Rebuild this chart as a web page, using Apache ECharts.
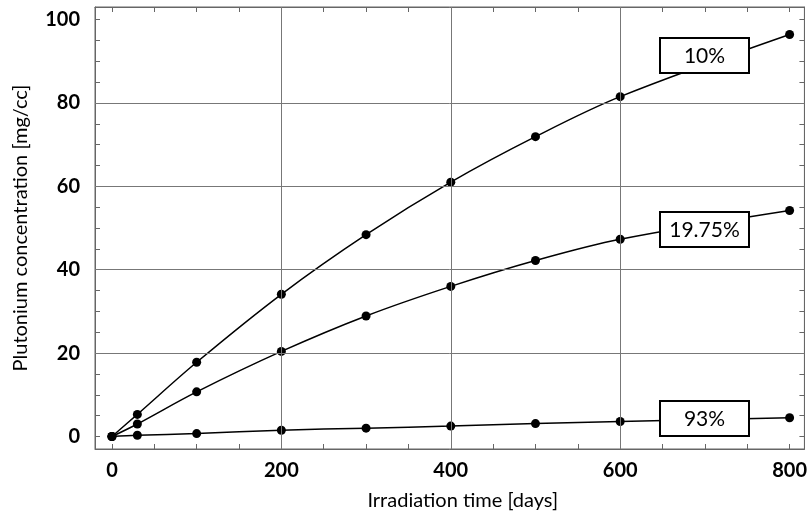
<!DOCTYPE html>
<html>
<head>
<meta charset="utf-8">
<title>Plutonium concentration vs irradiation time</title>
<script src="https://cdn.jsdelivr.net/npm/echarts@6/dist/echarts.min.js"></script>
<style>
  html, body { margin: 0; padding: 0; background: #fff; }
  #chart { width: 810px; height: 519px; }
</style>
</head>
<body>
<div id="chart"></div>
<script>
// Irradiation times (days) at which concentration was computed
const days = [0, 30, 100, 200, 300, 400, 500, 600, 800];

// Plutonium concentration (mg/cc) for each enrichment
const pu10 = [0, 5.3, 17.8, 34.1, 48.4, 61.0, 71.9, 81.5, 96.4];
const pu1975 = [0, 3.0, 10.7, 20.4, 28.9, 36.0, 42.2, 47.3, 54.2];
const pu93 = [0, 0.3, 0.7, 1.5, 2.0, 2.5, 3.1, 3.6, 4.5];

// Curve tags: [x, y, text]
const curveTags = [
  [700, 91.3, '10%'],
  [700, 49.6, '19.75%'],
  [700, 4.4, '93%']
];

// Axis ticks, labels and grid lines
const xLabels = [0, 200, 400, 600, 800];
const xTicks = [0, 50, 100, 150, 200, 250, 300, 350, 400, 450, 500, 550, 600, 650, 700, 750, 800];
const yLabels = [0, 20, 40, 60, 80, 100];
const yTicks = [0, 5, 10, 15, 20, 25, 30, 35, 40, 45, 50, 55, 60, 65, 70, 75, 80, 85, 90, 95, 100];
const xGrid = [200, 400, 600];
const yGrid = [20, 40, 60, 80];

const FONT = 'Lato, "Open Sans", sans-serif';
const AXIS_GRAY = '#666';
const TAG_W = 89, TAG_H = 35;

function pairs(xs, ys) { return xs.map((x, i) => [x, ys[i]]); }

function curve(name, values) {
  return {
    name: name,
    type: 'line',
    data: pairs(days, values),
    smooth: 0.35,
    symbol: 'circle',
    symbolSize: 9,
    itemStyle: { color: '#000' },
    lineStyle: { color: '#000', width: 1.5 },
    z: 3,
    silent: true
  };
}

const xBase = {
  type: 'value', min: -20, max: 817.5,
  axisLine: { show: true, onZero: false, lineStyle: { color: AXIS_GRAY, width: 1 } },
  splitLine: { show: false }
};
const yBase = {
  type: 'value', min: -3, max: 103,
  axisLine: { show: true, onZero: false, lineStyle: { color: AXIS_GRAY, width: 1 } },
  splitLine: { show: false }
};

// white box with a black frame and the curve name, centred on its data point
function renderTag(params, api) {
  const c = api.coord([api.value(0), api.value(1)]);
  const x = Math.round(c[0] - TAG_W / 2);
  const y = Math.round(c[1] - TAG_H / 2);
  return {
    type: 'group',
    children: [
      {
        type: 'rect',
        shape: { x: x, y: y, width: TAG_W, height: TAG_H },
        style: { fill: '#fff', stroke: '#000', lineWidth: 2 }
      },
      {
        type: 'text',
        x: x + TAG_W / 2,
        y: y + TAG_H / 2 + 1,
        style: {
          text: curveTags[params.dataIndex][2],
          fill: '#000',
          font: 'normal 21px ' + FONT,
          align: 'center',
          verticalAlign: 'middle'
        }
      }
    ]
  };
}

const chart = echarts.init(document.getElementById('chart'), null, { renderer: 'canvas' });

chart.setOption({
  animation: false,
  backgroundColor: '#fff',
  grid: { left: 95, right: 1, top: 7, bottom: 70, show: true, borderColor: AXIS_GRAY, borderWidth: 1, backgroundColor: 'transparent' },
  xAxis: [
    Object.assign({}, xBase, {
      position: 'bottom',
      name: 'Irradiation time [days]',
      nameLocation: 'middle',
      nameGap: 42,
      nameTextStyle: { fontFamily: FONT, fontSize: 20, fontWeight: 'normal', color: '#000', padding: [0, 0, 0, 26] },
      axisTick: { show: true, inside: true, length: 5, customValues: xTicks, lineStyle: { color: AXIS_GRAY } },
      axisLabel: { show: true, customValues: xLabels, margin: 12, fontFamily: FONT, fontSize: 20, fontWeight: 'bold', color: '#000' }
    }),
    Object.assign({}, xBase, {
      position: 'top',
      axisTick: { show: true, inside: true, length: 5, customValues: xTicks, lineStyle: { color: AXIS_GRAY } },
      axisLabel: { show: false }
    })
  ],
  yAxis: [
    Object.assign({}, yBase, {
      position: 'left',
      name: 'Plutonium concentration [mg/cc]',
      nameLocation: 'middle',
      nameGap: 64,
      nameRotate: 90,
      nameTextStyle: { fontFamily: FONT, fontSize: 20, fontWeight: 'normal', color: '#000' },
      axisTick: { show: true, inside: true, length: 5, customValues: yTicks, lineStyle: { color: AXIS_GRAY } },
      axisLabel: { show: true, customValues: yLabels, margin: 15, fontFamily: FONT, fontSize: 20, fontWeight: 'bold', color: '#000' }
    }),
    Object.assign({}, yBase, {
      position: 'right',
      axisTick: { show: true, inside: true, length: 5, customValues: yTicks, lineStyle: { color: AXIS_GRAY } },
      axisLabel: { show: false }
    })
  ],
  series: [
    {
      // grid lines at the interior major ticks
      name: 'grid',
      type: 'line',
      data: [],
      silent: true,
      z: 1,
      markLine: {
        silent: true,
        symbol: ['none', 'none'],
        label: { show: false },
        lineStyle: { color: '#777', width: 1, type: 'solid' },
        animation: false,
        data: xGrid.map(v => ({ xAxis: v })).concat(yGrid.map(v => ({ yAxis: v })))
      }
    },
    curve('10%', pu10),
    curve('19.75%', pu1975),
    curve('93%', pu93),
    {
      name: 'tags',
      type: 'custom',
      data: curveTags.map(t => [t[0], t[1]]),
      renderItem: renderTag,
      silent: true,
      clip: false,
      z: 10
    }
  ]
});
</script>
</body>
</html>
